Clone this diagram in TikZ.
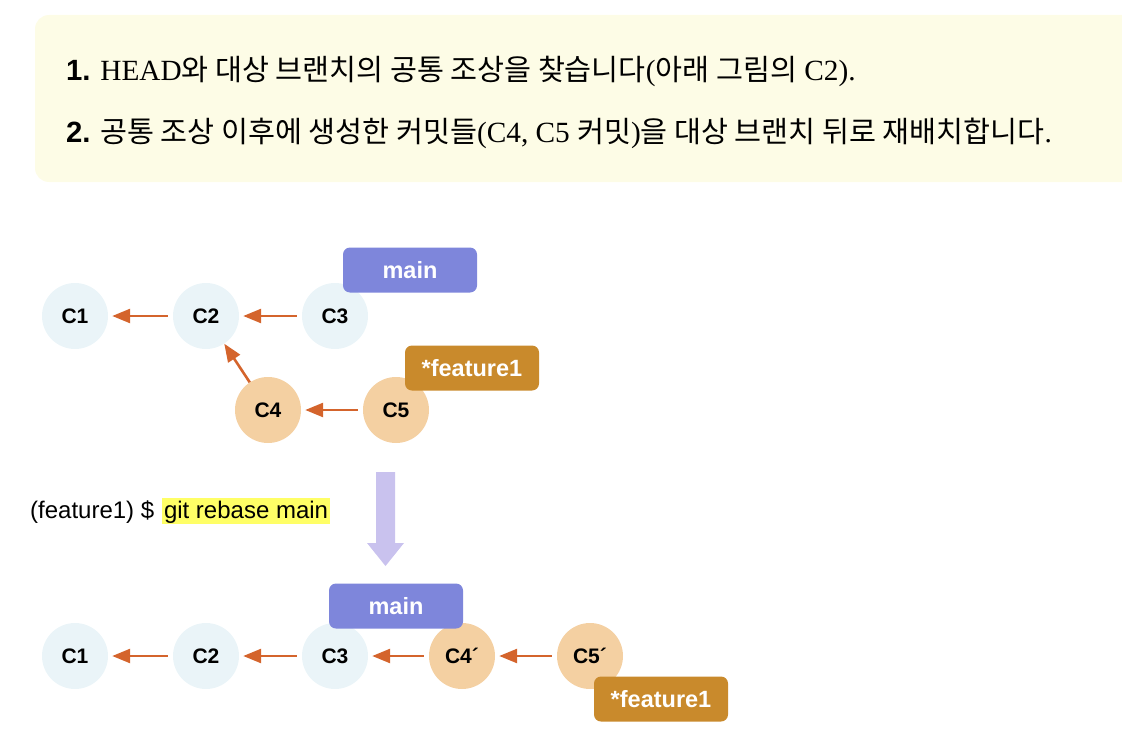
\documentclass[tikz,border=0pt]{standalone}
\usepackage{fontspec}
\setmainfont{Liberation Serif}
\setsansfont{Liberation Sans}
\newfontfamily\kr{Noto Sans CJK KR}
\usetikzlibrary{arrows.meta}
\definecolor{boxbg}{HTML}{FDFCE6}
\definecolor{mainc}{HTML}{7E86DB}
\definecolor{featc}{HTML}{C98A2C}
\definecolor{blueC}{HTML}{EAF4F8}
\definecolor{orangeC}{HTML}{F4D0A2}
\definecolor{arrc}{HTML}{D4642C}
\definecolor{hl}{HTML}{FFFF66}
\definecolor{bigarr}{HTML}{C9C2EE}
\tikzset{
  commit/.style={circle, minimum size=66pt, inner sep=0pt, font=\sffamily\bfseries\fontsize{21}{21}\selectfont},
  cb/.style={commit, fill=blueC},
  co/.style={commit, fill=orangeC},
  branch/.style={rounded corners=7pt, minimum width=134pt, minimum height=45pt, inner sep=0pt, text=white, font=\sffamily\bfseries\fontsize{23.5}{23.5}\selectfont},
  mainlbl/.style={branch, fill=mainc},
  featlbl/.style={branch, fill=featc},
  link/.style={draw=arrc, line width=2.6pt, -{Triangle[length=18pt,width=14pt]}, shorten >=4pt, shorten <=5pt},
}
\begin{document}
\begin{tikzpicture}[x=1pt,y=-1pt]
\useasboundingbox (0,0) rectangle (1122,752);
% heading box
\fill[boxbg, rounded corners=14pt] (35,15) rectangle (1140,182);
\node[anchor=base west, inner sep=0pt, font=\fontsize{29.3}{29.3}\selectfont] (l1) at (66,81)
  {{\sffamily\bfseries 1.} HEAD{\kr 와 대상 브랜치의 공통 조상을 찾습니다}({\kr 아래 그림의} C2).};
\node[anchor=base west, inner sep=0pt, font=\fontsize{29.3}{29.3}\selectfont] (l2) at (66,142)
  {{\sffamily\bfseries 2.} {\kr 공통 조상 이후에 생성한 커밋들}(C4, C5 {\kr 커밋}){\kr 을 대상 브랜치 뒤로 재배치합니다}.};
% top graph
\node[cb] (a1) at (75,316) {C1};
\node[cb] (a2) at (206,316) {C2};
\node[cb] (a3) at (335,316) {C3};
\node[co] (a4) at (268,410) {C4};
\node[co] (a5) at (396,410) {C5};
\node[mainlbl] (am) at (410,270) {main};
\node[featlbl] (af) at (472,368) {*feature1};
\draw[link] (a2) -- (a1);
\draw[link] (a3) -- (a2);
\draw[link, shorten >=0pt, shorten <=0pt] (a4) -- (a2);
\draw[link] (a5) -- (a4);
% command
\node[anchor=base west, inner sep=0pt, font=\sffamily\fontsize{24}{24}\selectfont] (cmd) at (30,518) {(feature1) \$};
\node[anchor=base west, fill=hl, inner sep=0pt, outer sep=0pt, text depth=6pt, text height=20pt, inner xsep=2pt, font=\sffamily\fontsize{24}{24}\selectfont] (git) at (162,518) {git rebase main};
% big arrow
\fill[bigarr] (376,472) -- (395,472) -- (395,543) -- (404,543) -- (385.5,566) -- (367,543) -- (376,543) -- cycle;
% bottom graph
\node[cb] (b1) at (75,656) {C1};
\node[cb] (b2) at (206,656) {C2};
\node[cb] (b3) at (335,656) {C3};
\node[co] (b4) at (462,656) {C4´};
\node[co] (b5) at (590,656) {C5´};
\node[mainlbl] (bm) at (396,606) {main};
\node[featlbl] (bf) at (661,699) {*feature1};
\draw[link] (b2) -- (b1);
\draw[link] (b3) -- (b2);
\draw[link] (b4) -- (b3);
\draw[link] (b5) -- (b4);
\end{tikzpicture}
\end{document}
